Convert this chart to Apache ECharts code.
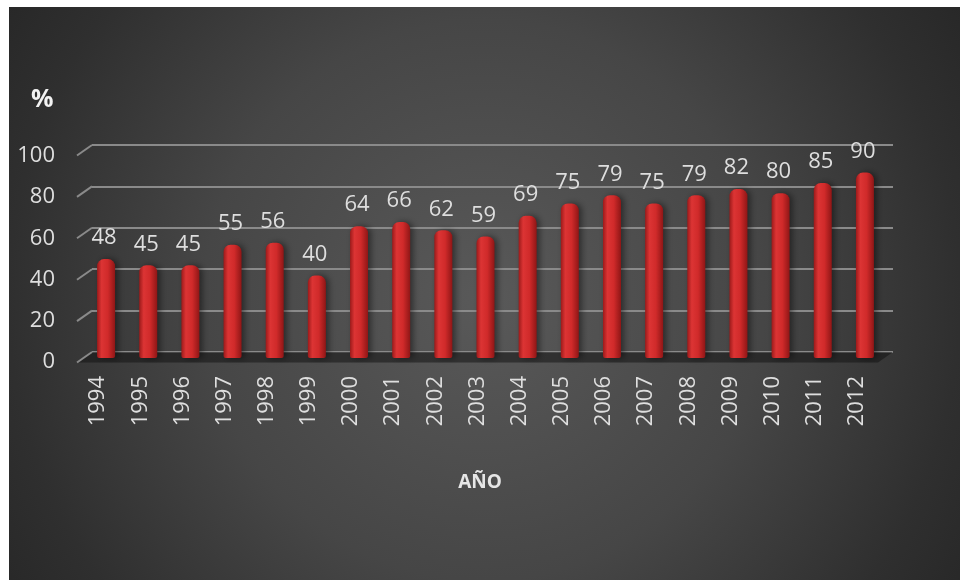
<!DOCTYPE html>
<html>
<head>
<meta charset="utf-8">
<script src="https://cdn.jsdelivr.net/npm/echarts@6/dist/echarts.min.js"></script>
<style>
html,body{margin:0;padding:0;background:#ffffff;}
#chart{width:960px;height:580px;}
</style>
</head>
<body>
<div id="chart"></div>
<script>
const years = ['1994','1995','1996','1997','1998','1999','2000','2001','2002','2003','2004','2005','2006','2007','2008','2009','2010','2011','2012'];
const values = [48,45,45,55,56,40,64,66,62,59,69,75,79,75,79,82,80,85,90];
const yTicks = [0,20,40,60,80,100];
const yTitle = '%';
const xTitle = 'AÑO';

const DX = 15, DY = 10.5;
const labelColor = '#dedede';
const font = '"Open Sans", "Noto Sans", sans-serif';

const chart = echarts.init(document.getElementById('chart'));
chart.setOption({
  backgroundColor: '#ffffff',
  animation: false,
  graphic: [
    {
      type: 'rect', z: -100, silent: true,
      shape: {x: 9, y: 7, width: 951, height: 573},
      style: {
        fill: new echarts.graphic.RadialGradient(484, 300, 560, [
          {offset: 0, color: '#595959'},
          {offset: 0.5, color: '#464646'},
          {offset: 0.85, color: '#2f2f2f'},
          {offset: 1, color: '#282828'}
        ], true)
      }
    },
    {
      type: 'text', left: 31, top: 87, silent: true,
      style: {text: yTitle, fill: '#f2f2f2', font: 'bold 25px ' + font}
    },
    {
      type: 'text', left: 'center', top: 473, silent: true,
      style: {text: xTitle, fill: '#e6e6e6', font: 'bold 19px ' + font}
    }
  ],
  grid: [
    {left: 77, right: 82, top: 156, bottom: 218},
    {left: 85, right: 74, top: 152, bottom: 222},
    {left: 92, right: 67, top: 145, bottom: 228}
  ],
  xAxis: [
    {
      type: 'category', gridIndex: 0, data: years,
      axisLine: {show: false}, axisTick: {show: false},
      axisLabel: {rotate: 90, margin: 14, color: labelColor, fontSize: 22, fontFamily: font}
    },
    {type: 'category', gridIndex: 1, data: years, show: false},
    {type: 'category', gridIndex: 2, data: years, show: false}
  ],
  yAxis: [
    {
      type: 'value', gridIndex: 0, min: 0, max: 100, interval: 20,
      axisLine: {show: false}, axisTick: {show: false}, splitLine: {show: false},
      axisLabel: {margin: 22, color: labelColor, fontSize: 22, fontFamily: font}
    },
    {type: 'value', gridIndex: 1, min: 0, max: 100, interval: 20, show: false, splitLine: {show: false}},
    {
      type: 'value', gridIndex: 2, min: 0, max: 100, interval: 20,
      axisLine: {show: false}, axisTick: {show: false}, axisLabel: {show: false},
      splitLine: {show: true, lineStyle: {color: '#8a8a8a', width: 2}}
    }
  ],
  series: [
    {
      type: 'custom', xAxisIndex: 2, yAxisIndex: 2, z: 1, silent: true,
      data: [[0, 0]],
      renderItem: function (params, api) {
        const cs = params.coordSys;
        const y0 = api.coord([0, api.value(1)])[1];
        return {
          type: 'polygon',
          shape: {points: [[cs.x - DX, y0 + DY], [cs.x, y0], [cs.x + cs.width, y0], [cs.x + cs.width - DX, y0 + DY]]},
          style: {fill: 'rgba(20,20,20,0.55)'}
        };
      }
    },
    {
      type: 'custom', xAxisIndex: 2, yAxisIndex: 2, z: 1, silent: true,
      data: yTicks.map(v => [0, v]),
      renderItem: function (params, api) {
        const cs = params.coordSys;
        const y = api.coord([0, api.value(1)])[1];
        return {
          type: 'line',
          shape: {x1: cs.x - DX, y1: y + DY, x2: cs.x, y2: y},
          style: {stroke: '#8a8a8a', lineWidth: 2}
        };
      }
    },
    {
      type: 'bar', xAxisIndex: 1, yAxisIndex: 1, z: 3,
      data: values,
      barWidth: 18,
      itemStyle: {
        borderRadius: [7, 7, 2, 2],
        shadowColor: 'rgba(0,0,0,0.45)', shadowBlur: 6, shadowOffsetX: 3, shadowOffsetY: 0,
        color: new echarts.graphic.LinearGradient(0, 0, 1, 0, [
          {offset: 0, color: '#9c1a1a'},
          {offset: 0.25, color: '#dc3434'},
          {offset: 0.6, color: '#d02a2a'},
          {offset: 1, color: '#8f1616'}
        ])
      },
      label: {
        show: true, position: 'top', distance: 10, offset: [-2, 0],
        color: labelColor, fontSize: 22, fontFamily: font
      }
    }
  ]
});
</script>
</body>
</html>
